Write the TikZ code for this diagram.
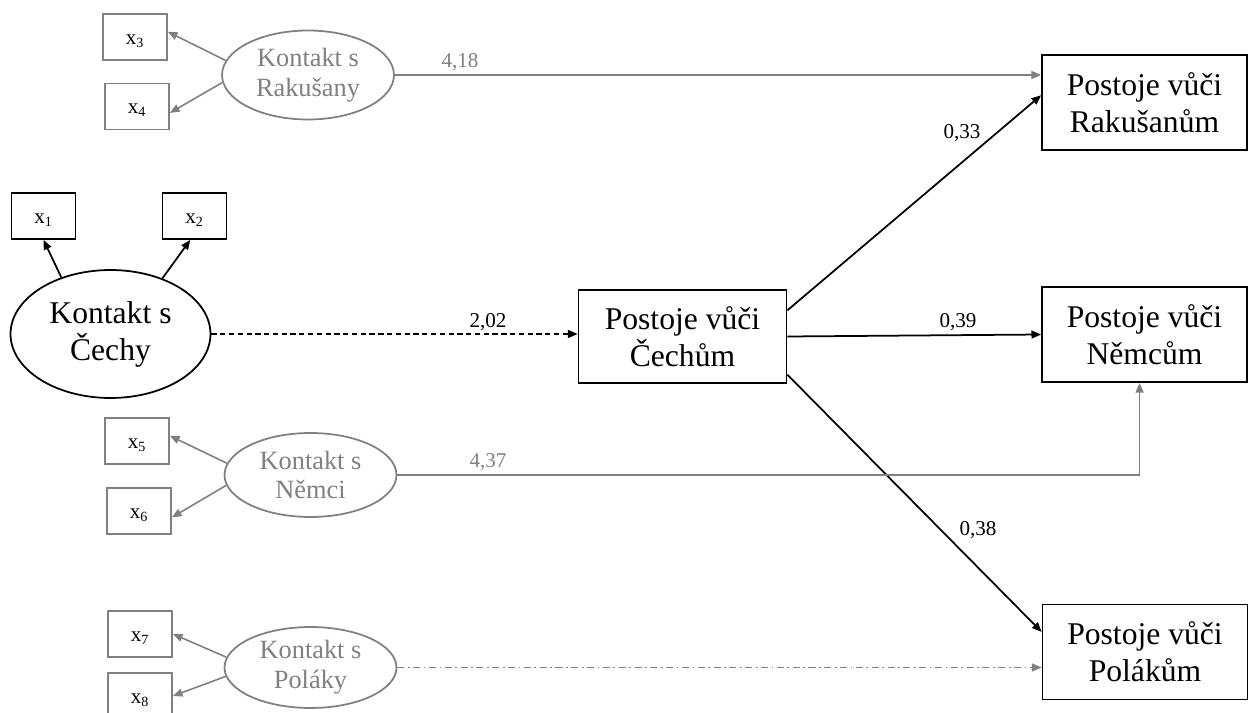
\documentclass[tikz,border=0pt]{standalone}
\usepackage{fontspec}
\setmainfont{Liberation Serif}
\usepackage{xcolor}
\usepackage{tikz}
\usetikzlibrary{shapes.geometric,arrows.meta,calc}
\definecolor{latgray}{RGB}{128,128,128}

\begin{document}
\begin{tikzpicture}[x=0.02cm, y=-0.02cm,
  obs/.style={draw, line width=1pt, minimum width=1.28cm, minimum height=0.92cm, inner sep=0pt, text height=1.9ex, text depth=0.1ex, font=\fontsize{12}{14}\selectfont},
  obsg/.style={obs, draw=latgray},
  outc/.style={draw, line width=1pt, minimum width=4.1cm, minimum height=1.9cm, inner sep=0pt, align=center, font=\fontsize{18}{21}\selectfont},
  lat/.style={draw, ellipse, line width=1pt, inner sep=0pt, align=center, minimum width=4cm, minimum height=2.56cm, font=\fontsize{18}{21}\selectfont},
  latg/.style={lat, draw=latgray, text=latgray, minimum width=3.44cm, minimum height=1.72cm, font=\fontsize{15}{17}\selectfont},
  eff/.style={line width=1pt, -{Triangle[length=5.5pt,width=4.5pt]}},
  effg/.style={eff, line width=0.9pt, draw=latgray},
  wt/.style={inner sep=0pt, font=\fontsize{12}{14}\selectfont},
  wtg/.style={wt, text=latgray}]
  \useasboundingbox (0,0) rectangle (1248,713);

  % Kontakt s Rakusany
  \node[obsg] (x3) at (135,37) {x\textsubscript{3}};
  \node[obsg] (x4) at (137,106.5) {x\textsubscript{4}};
  \node[latg, minimum height=1.78cm] (rak) at (308,75) {Kontakt s\\Rakušany};
  \draw[effg] (rak.170) -- (x3.9);
  \draw[effg] (rak.185) -- (x4.-11);

  % Kontakt s Cechy
  \node[obs] (x1) at (43.5,216) {x\textsubscript{1}};
  \node[obs] (x2) at (194.5,216) {x\textsubscript{2}};
  \node[lat] (cech) at (110.5,334) {Kontakt s\\Čechy};
  \draw[eff] (cech.131) -- (x1.south);
  \draw[eff] (cech.47) -- (x2.-100);

  % Kontakt s Nemci
  \node[obsg] (x5) at (137,441) {x\textsubscript{5}};
  \node[obsg] (x6) at (139,511) {x\textsubscript{6}};
  \node[latg, minimum height=1.68cm] (nem) at (310.5,475) {Kontakt s\\Němci};
  \draw[effg] (nem.172) -- (x5.9);
  \draw[effg] (nem.187) -- (x6.-11);

  % Kontakt s Polaky
  \node[obsg] (x7) at (140,634) {x\textsubscript{7}};
  \node[obsg] (x8) at (140,696) {x\textsubscript{8}};
  \node[latg, minimum height=1.62cm] (pol) at (310.5,667.5) {Kontakt s\\Poláky};
  \draw[effg] (pol.173) -- (x7.east);
  \draw[effg] (pol.186) -- (x8.east);

  % Postoje
  \node[outc, minimum width=4.16cm, minimum height=1.86cm] (cechum) at (682.5,336.5) {Postoje vůči\\Čechům};
  \node[outc] (rakcum) at (1144.5,102.5) {Postoje vůči\\Rakušanům};
  \node[outc] (nemcum) at (1144.5,334.5) {Postoje vůči\\Němcům};
  \node[outc] (polcum) at (1145,652) {Postoje vůči\\Polákům};

  % Effects
  \draw[eff, dash pattern=on 3pt off 2pt] (cech.east) -- (cech.east -| cechum.west);
  \draw[eff] (cechum.14) -- (rakcum.176);
  \draw[eff] (cechum.east) -- (nemcum.west);
  \draw[eff] (cechum.-20) -- (polcum.169);
  \draw[effg] (rak.east) -- (rak.east -| rakcum.west);
  \draw[effg] (nem.east) -| ([xshift=-2.8pt]nemcum.south);
  \draw[effg, dash pattern=on 4pt off 2pt on 1pt off 2pt] (pol.east) -- (pol.east -| polcum.west);

  % Weights
  \node[wtg] (w418) at (460,62) {4,18};
  \node[wt] (w202) at (488,322) {2,02};
  \node[wtg] (w437) at (488,462) {4,37};
  \node[wt] (w033) at (962,133) {0,33};
  \node[wt] (w039) at (958,322) {0,39};
  \node[wt] (w038) at (978,530) {0,38};
\end{tikzpicture}
\end{document}
